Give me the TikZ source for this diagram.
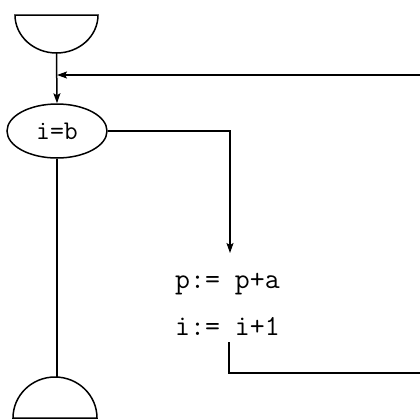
\documentclass[tikz,border=0pt]{standalone}
\usepackage{fontspec}
\usetikzlibrary{shapes.geometric,arrows.meta}
\tikzset{
  flow/.style={line width=1.5pt, black},
  tip/.style={-{Stealth[length=10pt,width=7pt,inset=2pt]}},
  code/.style={font=\ttfamily\fontsize{29}{32}\selectfont, inner sep=0pt, anchor=base west},
  cond/.style={ellipse, draw, line width=1.5pt, minimum width=100pt, minimum height=54pt,
               inner sep=0pt, font=\ttfamily\fontsize{27}{30}\selectfont}
}
\begin{document}
\begin{tikzpicture}[x=1pt,y=-1pt]
  \useasboundingbox (0,0) rectangle (420,418);
  % start terminal: half disc, flat side up
  \draw[flow] (15,15) -- (98,15) arc[start angle=0, end angle=180, x radius=41.5, y radius=38] -- cycle;
  \coordinate (start) at (56.5,53);
  % end terminal: half disc, flat side down
  \draw[flow] (13,418) arc[start angle=180, end angle=360, x radius=42, y radius=41] -- cycle;
  \coordinate (finish) at (55,377);

  % loop test
  \node[cond] (test) at (57,131) {i=b};

  % loop body
  \node[code] (body1) at (175,288) {p:= p+a};
  \node[code] (body2) at (175,335) {i:= i+1};

  % connectors
  \coordinate (join) at (57,75);
  \coordinate (back) at (420,75);
  \coordinate (into) at (230,253);
  \coordinate (outof) at (229,342);
  \coordinate (exit) at (420,373);

  \draw[flow,tip] (start) -- (test.north);
  \draw[flow,tip] (back) -- (join);
  \draw[flow,tip] (test.east) -- (into |- test.east) -- (into);
  \draw[flow] (outof) -- (outof |- exit) -- (exit);
  \draw[flow] (test.south) -- (test.south |- finish);
\end{tikzpicture}
\end{document}
